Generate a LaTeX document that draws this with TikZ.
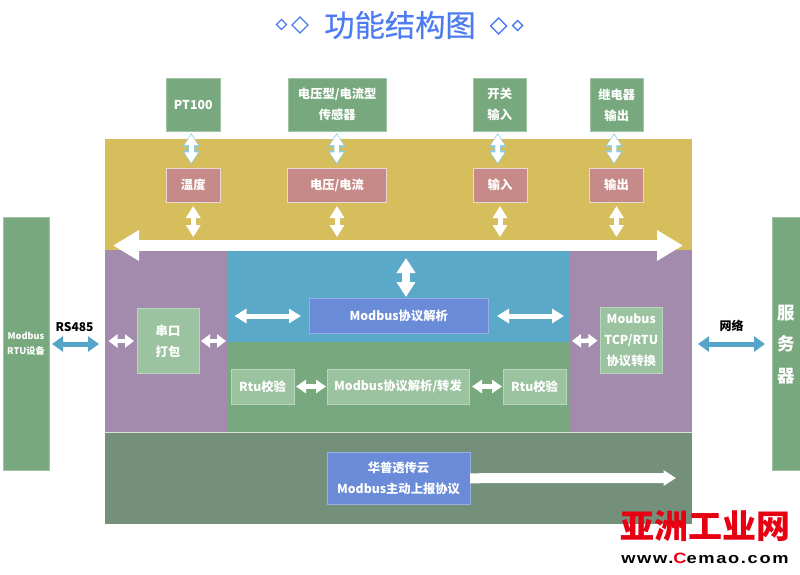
\documentclass[tikz,border=0pt]{standalone}
\usepackage{fontspec}
\usetikzlibrary{arrows.meta,shapes.geometric}
\setmainfont{Noto Sans CJK SC}
\newfontfamily\titlefont[FakeBold=0.5]{Noto Sans CJK SC}
\newfontfamily\wmfont[LetterSpace=9]{Liberation Sans}
\definecolor{cYellow}{HTML}{D7BE5C}
\definecolor{cPurple}{HTML}{A38BAE}
\definecolor{cBlue}{HTML}{5AA9C9}
\definecolor{cGreen}{HTML}{78A97E}
\definecolor{cDark}{HTML}{74907A}
\definecolor{cPink}{HTML}{C68B88}
\definecolor{cLight}{HTML}{9CC3A0}
\definecolor{cRoyal}{HTML}{6A8BD8}
\definecolor{cTitle}{HTML}{4D7CF0}
\definecolor{cLink}{HTML}{56A5C8}
\definecolor{cEdge}{HTML}{8CCBE0}
\definecolor{cWm}{HTML}{E60012}
\tikzset{
  x=1pt,y=-1pt,
  tbox/.style={draw=white!30!cGreen,line width=0.6pt,inner sep=0pt,outer sep=0pt,text=white,
     font=\fontsize{12.3}{21}\selectfont\bfseries,align=center},
  greenbox/.style={tbox,fill=cGreen},
  pinkbox/.style={tbox,fill=cPink,draw=white!65!cPink},
  lightbox/.style={tbox,fill=cLight,draw=white!30!cLight},
  royalbox/.style={tbox,fill=cRoyal,draw=white!30!cRoyal},
  diam/.style={diamond,draw=cTitle,line width=1.4pt,aspect=1,inner sep=0pt,outer sep=0pt},
  warrow/.style n args={3}{draw=white,line width=#1,
     {Triangle[length=#2,width=#3]}-{Triangle[length=#2,width=#3]}},
  smallarrow/.style={warrow={4.5pt}{9pt}{13pt}},
  midarrow/.style={warrow={5pt}{12pt}{14pt}},
  linkarrow/.style={draw=cLink,line width=5pt,
     {Triangle[length=11pt,width=15pt]}-{Triangle[length=11pt,width=15pt]}},
  outlinebg/.style={draw=cEdge,line width=7pt,shorten <=2pt,shorten >=3.5pt,
     {Triangle[length=14pt,width=16.5pt]}-{Triangle[length=14pt,width=16.5pt]}},
  outlinefg/.style={draw=white,line width=4.5pt,shorten <=3.6pt,shorten >=5.1pt,
     {Triangle[length=10.5pt,width=13pt]}-{Triangle[length=10.5pt,width=13pt]}},
  blabel/.style={inner sep=0pt,font=\fontsize{12}{14}\selectfont\bfseries,text=black},
}
\newcommand{\outarrow}[2]{\draw[outlinebg] #1 -- #2; \draw[outlinefg] #1 -- #2;}
\begin{document}
\begin{tikzpicture}
\useasboundingbox (0,0) rectangle (800,574);
% title
\node[diam,minimum size=10pt] (d1) at (281.5,24.5) {};
\node[diam,minimum size=16pt] (d2) at (300,25) {};
\node[diam,minimum size=16pt] (d3) at (498.7,26) {};
\node[diam,minimum size=10pt] (d4) at (517.7,25.5) {};
\node[inner sep=0pt,text=cTitle,font=\fontsize{30.3}{32}\selectfont\titlefont] (title) at (400,25) {功能结构图};
% zones
\node[fill=cYellow,inner sep=0pt,minimum width=587pt,minimum height=111pt] (yz) at (398.5,194.5) {};
\node[fill=cPurple,inner sep=0pt,minimum width=587pt,minimum height=182pt] (pz) at (398.5,341) {};
\node[fill=cBlue,inner sep=0pt,minimum width=342pt,minimum height=92pt] (bz) at (399,296) {};
\node[fill=cGreen,inner sep=0pt,minimum width=342pt,minimum height=90pt] (gz) at (399,387) {};
\node[fill=cDark,inner sep=0pt,minimum width=587pt,minimum height=91pt] (dz) at (398.5,478) {};
\draw[white!70!cGreen,line width=0.6pt] (dz.north west) -- (dz.north east);
% top boxes
\node[greenbox,minimum width=53.5pt,minimum height=52.5pt] (pt) at (193.25,104.75) {PT100};
\node[greenbox,minimum width=98.5pt,minimum height=52.5pt] (vs) at (337.25,104.75) {电压型/电流型\\传感器};
\node[greenbox,minimum width=53.5pt,minimum height=52.5pt] (sw) at (499.75,104.75) {开关\\输入};
\node[greenbox,minimum width=53.5pt,minimum height=52.5pt] (rl) at (616.75,104.75) {继电器\\输出};
% pink boxes
\node[pinkbox,minimum width=54.5pt,minimum height=34pt] (tp) at (193.25,185) {温度};
\node[pinkbox,minimum width=99pt,minimum height=34pt] (vc) at (337,185) {电压/电流};
\node[pinkbox,minimum width=54pt,minimum height=34pt] (in) at (500,185) {输入};
\node[pinkbox,minimum width=54pt,minimum height=34pt] (ou) at (616.5,185) {输出};
% side boxes
\node[greenbox,minimum width=46pt,minimum height=252.5pt,font=\fontsize{9.2}{15.5}\selectfont\bfseries] (dev) at (26,343.75) {Modbus\\RTU设备};
\node[greenbox,minimum width=48pt,minimum height=252.5pt] (srv) at (796,343.75) {};
\node[inner sep=0pt,text=white,align=center,font=\fontsize{17.5}{31.5}\selectfont\bfseries] (srvt) at (786,344.5) {服\\务\\器};
% inner boxes
\node[royalbox,minimum width=179.5pt,minimum height=35pt] (mb) at (398.75,315.5) {Modbus协议解析};
\node[lightbox,minimum width=62pt,minimum height=65pt] (ua) at (168,341) {串口\\打包};
\node[lightbox,minimum width=62.5pt,minimum height=66pt] (co) at (631.25,340.5) {Moubus\\TCP/RTU\\协议转换};
\node[lightbox,minimum width=63pt,minimum height=35pt] (rl1) at (262.5,386.5) {Rtu校验};
\node[lightbox,minimum width=142pt,minimum height=35pt] (fw) at (398,386.5) {Modbus协议解析/转发};
\node[lightbox,minimum width=63pt,minimum height=35pt] (rl2) at (534.5,386.5) {Rtu校验};
\node[royalbox,minimum width=143pt,minimum height=51.5pt] (cl) at (398.5,478.25) {华普透传云\\Modbus主动上报协议};
% free ends
\coordinate (busL) at (113,245.5);
\coordinate (busR) at (683,245.5);
\coordinate (busTop) at (0,237);
\coordinate (puL) at (108.5,341);
\coordinate (gzL) at (226,341);
\coordinate (puR) at (572,341);
\coordinate (bzTop) at (406,258);
\coordinate (bzL) at (234.5,316);
\coordinate (bzR) at (564,316);
\coordinate (rsL) at (52,344);
\coordinate (rsR) at (99,344);
\coordinate (netL) at (698,344);
\coordinate (netR) at (765,344);
\coordinate (clE) at (676,478);
% bus
\draw[draw=white,line width=11.5pt,{Triangle[length=26pt,width=29pt]}-{Triangle[length=26pt,width=29pt]}] (busL) -- (busR);
% outlined arrows
\outarrow{([xshift=-2pt]pt.south)}{([xshift=-2pt]tp.north)}
\outarrow{([xshift=-0.5pt]vs.south)}{([xshift=-0.3pt]vc.north)}
\outarrow{([xshift=-2pt]sw.south)}{([xshift=-2.3pt]in.north)}
\outarrow{([xshift=-2.7pt]rl.south)}{([xshift=-2.5pt]ou.north)}
% down to bus
\draw[midarrow,shorten <=4pt] (tp.south) -- (tp.south |- busTop);
\draw[midarrow,shorten <=4pt] (vc.south) -- (vc.south |- busTop);
\draw[midarrow,shorten <=4pt] (in.south) -- (in.south |- busTop);
\draw[midarrow,shorten <=4pt] (ou.south) -- (ou.south |- busTop);
% blue zone
\draw[warrow={8.5pt}{15pt}{18pt},shorten >=1pt] (bzTop) -- ([xshift=7.25pt]mb.north);
\draw[midarrow,shorten >=8pt] (bzL) -- (mb.west |- bzL);
\draw[midarrow,shorten <=8.5pt] (mb.east |- bzR) -- (bzR);
% purple
\draw[smallarrow,shorten >=3pt] (puL) -- (ua.west);
\draw[smallarrow,shorten <=2pt] (ua.east) -- (gzL);
\draw[smallarrow,shorten >=2.5pt] (puR) -- (co.west);
% green
\draw[warrow={5pt}{10pt}{13pt},shorten <=2pt,shorten >=1pt] (rl1.east) -- (fw.west);
\draw[warrow={5pt}{10pt}{13pt},shorten <=3pt,shorten >=1pt] (fw.east) -- (rl2.west);
% cloud
\draw[draw=white,line width=10pt,-{Triangle[length=12.5pt,width=15pt]}] (cl.east) -- (clE);
% outer links
\draw[linkarrow] (rsL) -- (rsR);
\draw[linkarrow] (netL) -- (netR);
\node[blabel] (rs) at (74.5,327.5) {RS485};
\node[blabel] (net) at (731.5,326) {网络};
% watermark
\node[inner sep=0pt,text=cWm,font=\fontsize{33}{36}\selectfont\bfseries] (wm1) at (705.5,526.5) {\scalebox{1.03}[1]{亚洲工业网}};
\node[inner sep=0pt,font=\fontsize{15}{18}\selectfont\wmfont\bfseries] (wm2) at (705,558) {\scalebox{1.22}[1]{www.\textcolor{cWm}{C}emao.com}};
\end{tikzpicture}
\end{document}
